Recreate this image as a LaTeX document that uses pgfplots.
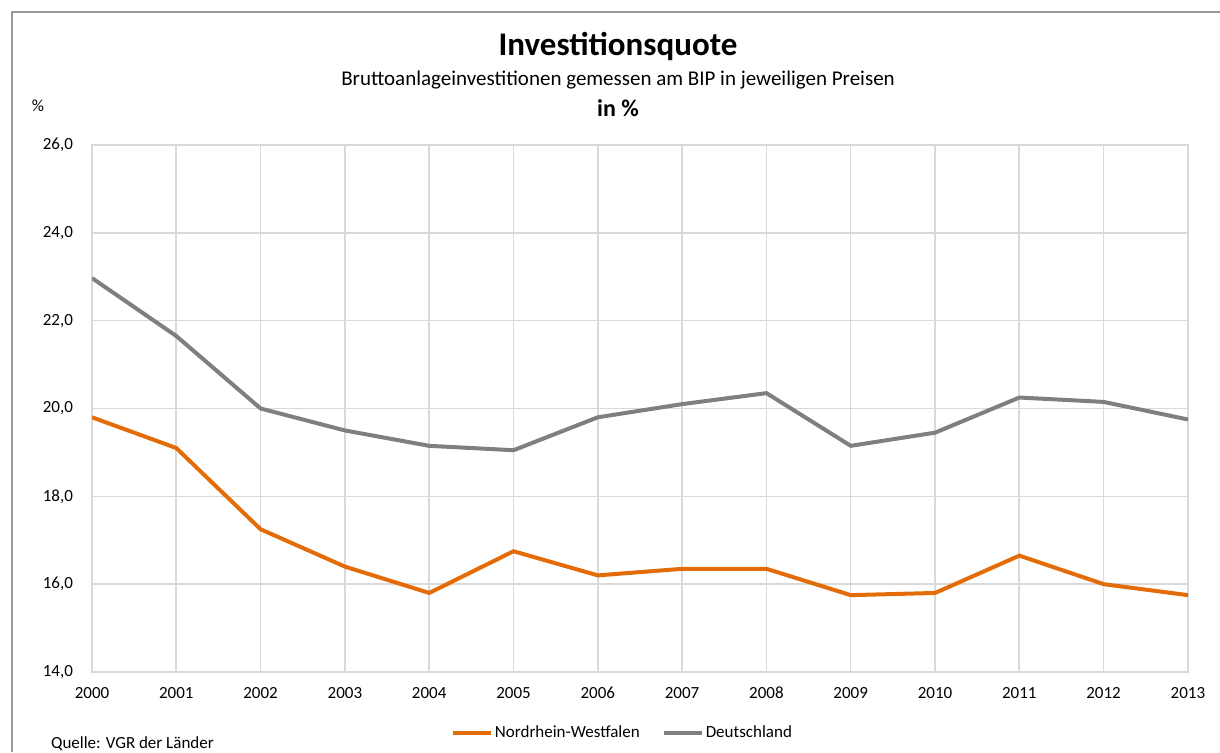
\documentclass[border=0pt]{standalone}
\usepackage{pgfplots}
\pgfplotsset{compat=1.18}
\usepackage{fontspec}
\setmainfont{Carlito}
\definecolor{nrw}{HTML}{E36C09}
\definecolor{de}{HTML}{7F7F7F}
\definecolor{gridc}{HTML}{D9D9D9}
\begin{document}
\begin{tikzpicture}
\path[use as bounding box] (0pt,0pt) rectangle (610pt,376pt);
% page frame: 1 px = 0.5pt, origin bottom left
\begin{scope}[x=0.5pt,y=0.5pt]
\draw[de!80,line width=1pt] (12,0) -- (12,740) -- (1220,740);
\node[font=\bfseries\fontsize{16.5}{18}\selectfont] at (618,706) {Investitionsquote};
\node[font=\fontsize{10.5}{12}\selectfont] at (618,672) {Bruttoanlageinvestitionen gemessen am BIP in jeweiligen Preisen};
\node[font=\bfseries\fontsize{12}{14}\selectfont] at (618,644) {in \%};
\node[font=\fontsize{8.5}{10}\selectfont] at (38,646) {\%};
\node[font=\fontsize{8.5}{10}\selectfont,anchor=west] at (44,8) {Quelle: VGR der Länder};
\end{scope}
\begin{axis}[
  at={(46pt,40pt)}, anchor=south west,
  scale only axis, width=548pt, height=263.5pt,
  xmin=2000, xmax=2013, ymin=14, ymax=26,
  xtick={2000,...,2013}, ytick={14,16,...,26},
  xticklabel style={/pgf/number format/1000 sep={}, yshift=-4pt},
  yticklabel style={/pgf/number format/fixed, /pgf/number format/fixed zerofill,
    /pgf/number format/precision=1, /pgf/number format/use comma, xshift=-6pt},
  /pgf/number format/assume math mode=true,
  ticklabel style={font=\fontsize{8.5}{10}\selectfont},
  grid=both, major grid style={gridc,line width=0.8pt},
  axis line style={gridc,line width=0.8pt},
  major tick length=0pt,
  legend style={at={(0.484,-0.1157)},anchor=center,draw=none,inner sep=0pt,
    font=\fontsize{8.5}{10}\selectfont, nodes={inner xsep=1pt},
    legend columns=2,/tikz/every even column/.append style={column sep=10pt}},
  legend image code/.code={\draw[#1,line width=2pt] (0pt,0pt) -- (19pt,0pt);},
]
\addplot[nrw,line width=2pt] coordinates {
(2000,19.8) (2001,19.1) (2002,17.25) (2003,16.4) (2004,15.8) (2005,16.75) (2006,16.2)
(2007,16.35) (2008,16.35) (2009,15.75) (2010,15.8) (2011,16.65) (2012,16.0) (2013,15.75)};
\addlegendentry{Nordrhein-Westfalen}
\addplot[de,line width=2pt] coordinates {
(2000,22.97) (2001,21.65) (2002,20.0) (2003,19.5) (2004,19.15) (2005,19.05) (2006,19.8)
(2007,20.1) (2008,20.35) (2009,19.15) (2010,19.45) (2011,20.25) (2012,20.15) (2013,19.75)};
\addlegendentry{Deutschland}
\end{axis}
\end{tikzpicture}
\end{document}
